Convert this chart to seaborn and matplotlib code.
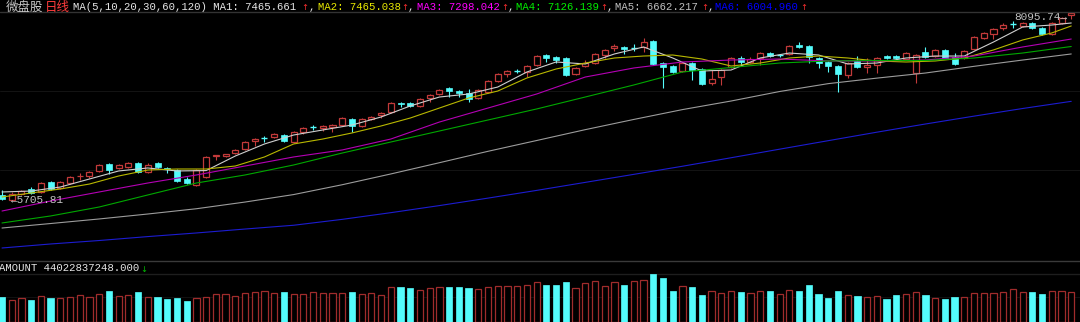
import matplotlib
matplotlib.use('Agg')
import matplotlib.pyplot as plt
from matplotlib.lines import Line2D
import numpy as np
import seaborn as sns

# ---------------- data ----------------
opens = [5770, 5706, 5782, 5846, 5808, 5935, 5859, 5922, 6005, 6011,
         6075, 6164, 6113, 6125, 6176, 6062, 6176, 6113, 6087, 5973,
         5897, 5998, 6265, 6265, 6303, 6354, 6456, 6500, 6507, 6532,
         6443, 6570, 6628, 6621, 6634, 6659, 6736, 6647, 6736, 6786,
         6825, 6939, 6939, 6901, 7002, 7053, 7130, 7091, 7066, 7002,
         7079, 7218, 7308, 7346, 7333, 7422, 7549, 7524, 7511, 7308,
         7409, 7447, 7549, 7638, 7651, 7644, 7651, 7727, 7447, 7409,
         7346, 7447, 7371, 7193, 7269, 7396, 7511, 7460, 7511, 7574,
         7543, 7562, 7676, 7663, 7511, 7460, 7409, 7295, 7473, 7396,
         7422, 7536, 7536, 7498, 7320, 7587, 7536, 7613, 7524, 7511,
         7625, 7765, 7816, 7892, 7949, 7918, 7956, 7892, 7816, 7956,
         8057]
highs = [5833, 5808, 5833, 5871, 5935, 5948, 5948, 6011, 6049, 6075,
         6164, 6176, 6164, 6189, 6189, 6176, 6189, 6125, 6100, 5998,
         6100, 6265, 6278, 6291, 6354, 6456, 6494, 6519, 6558, 6545,
         6583, 6634, 6659, 6659, 6672, 6761, 6748, 6748, 6774, 6825,
         6952, 6952, 6952, 7002, 7053, 7117, 7142, 7104, 7117, 7117,
         7231, 7320, 7358, 7371, 7422, 7549, 7562, 7536, 7524, 7396,
         7485, 7574, 7625, 7689, 7663, 7689, 7765, 7740, 7460, 7422,
         7460, 7460, 7384, 7358, 7371, 7524, 7536, 7524, 7587, 7587,
         7562, 7676, 7714, 7676, 7524, 7473, 7422, 7460, 7536, 7511,
         7524, 7549, 7549, 7587, 7562, 7651, 7625, 7625, 7574, 7613,
         7790, 7841, 7892, 7956, 7981, 7968, 7968, 7905, 7968, 8032,
         8095.74]
lows = [5712, 5705.81, 5770, 5782, 5795, 5833, 5846, 5909, 5960, 5986,
        6062, 6037, 6100, 6113, 6049, 6049, 6113, 6049, 5935, 5909,
        5884, 5986, 6214, 6253, 6291, 6342, 6392, 6443, 6494, 6443,
        6431, 6545, 6596, 6583, 6570, 6647, 6570, 6634, 6723, 6748,
        6812, 6888, 6888, 6888, 6952, 7041, 7015, 7015, 6952, 6990,
        7066, 7206, 7269, 7320, 7269, 7409, 7460, 7447, 7282, 7295,
        7396, 7435, 7511, 7600, 7562, 7600, 7587, 7422, 7130, 7320,
        7333, 7231, 7168, 7168, 7168, 7384, 7409, 7447, 7422, 7524,
        7524, 7549, 7638, 7447, 7384, 7333, 7079, 7257, 7384, 7320,
        7320, 7498, 7498, 7485, 7193, 7511, 7524, 7498, 7422, 7498,
        7613, 7752, 7752, 7867, 7892, 7905, 7879, 7803, 7803, 7943,
        8007]
closes = [5719, 5782, 5824, 5795, 5922, 5846, 5935, 5998, 6011, 6062,
          6151, 6087, 6151, 6176, 6062, 6151, 6125, 6100, 5948, 5922,
          6087, 6253, 6272, 6291, 6342, 6443, 6481, 6500, 6545, 6456,
          6570, 6621, 6628, 6647, 6659, 6748, 6647, 6736, 6761, 6812,
          6939, 6926, 6901, 6990, 7041, 7104, 7091, 7066, 6990, 7104,
          7218, 7308, 7346, 7346, 7409, 7536, 7511, 7485, 7295, 7384,
          7447, 7562, 7613, 7663, 7625, 7644, 7714, 7435, 7396, 7333,
          7447, 7358, 7180, 7244, 7358, 7511, 7460, 7498, 7574, 7536,
          7543, 7663, 7651, 7524, 7447, 7409, 7308, 7447, 7396, 7422,
          7511, 7511, 7511, 7574, 7549, 7524, 7613, 7511, 7435, 7600,
          7778, 7829, 7879, 7930, 7949, 7956, 7892, 7816, 7956, 8019,
          8080]
# turnover, 亿元
amount = [275, 242, 264, 242, 286, 264, 264, 275, 297, 275,
          308, 341, 286, 297, 330, 275, 275, 253, 264, 231,
          264, 275, 308, 308, 286, 319, 330, 341, 319, 330,
          308, 308, 330, 319, 319, 319, 330, 308, 319, 297,
          385, 385, 374, 352, 374, 385, 385, 385, 374, 363,
          385, 396, 396, 396, 407, 440, 407, 407, 440, 374,
          429, 451, 396, 440, 407, 451, 462, 528, 484, 341,
          396, 385, 297, 341, 319, 341, 330, 319, 341, 341,
          308, 352, 341, 407, 308, 264, 341, 297, 286, 275,
          286, 253, 297, 308, 330, 297, 264, 253, 275, 275,
          319, 319, 319, 330, 363, 330, 330, 308, 341, 341,
          330]

ma_short_idx = list(range(0, 109, 3)) + [110]
ma1 = [5808, 5820, 5871, 5973, 6075, 6113, 6075, 6080, 6265, 6418,
       6532, 6596, 6659, 6761, 6901, 7015, 7053, 7142, 7333, 7460,
       7435, 7562, 7651, 7511, 7346, 7358, 7511, 7574, 7549, 7435,
       7447, 7511, 7536, 7536, 7714, 7905, 7930, 7956]
ma2 = [5744, 5795, 5846, 5909, 6011, 6087, 6100, 6100, 6138, 6253,
       6418, 6481, 6558, 6647, 6748, 6875, 7002, 7091, 7257, 7371,
       7447, 7511, 7536, 7549, 7498, 7409, 7447, 7511, 7536, 7511,
       7473, 7460, 7473, 7511, 7613, 7740, 7829, 7918]
ma_long_idx = list(range(0, 111, 5))
ma3 = [5566, 5693, 5808, 5922, 6024, 6138, 6253, 6342, 6481, 6697,
       6875, 7053, 7269, 7384, 7460, 7485, 7498, 7473, 7473, 7485,
       7536, 7651, 7752]
ma4 = [5414, 5503, 5617, 5770, 5922, 6024, 6151, 6303, 6443, 6583,
       6723, 6863, 7015, 7168, 7333, 7390, 7447, 7473, 7479, 7479,
       7511, 7574, 7657]
ma5 = [5350, 5407, 5465, 5528, 5595, 5680, 5775, 5900, 6037, 6180,
       6325, 6462, 6600, 6730, 6855, 6964, 7085, 7185, 7255, 7320,
       7405, 7485, 7562]
ma6 = [5096, 5147, 5191, 5241, 5287, 5337, 5385, 5460, 5545, 5635,
       5730, 5828, 5930, 6032, 6135, 6243, 6352, 6460, 6568, 6672,
       6772, 6869, 6960]

# ---------------- style ----------------
sns.set_theme(style='dark', rc={'axes.facecolor': 'black', 'figure.facecolor': 'black',
                                'savefig.facecolor': 'black'})
plt.rcParams['font.family'] = ['Liberation Mono', 'Noto Sans CJK SC', 'DejaVu Sans']

RED = '#c23a3a'
VRED = '#a02c2c'
CYAN = '#54fcfc'
W, H = 1080, 322

fig = plt.figure(figsize=(W / 100, H / 100), dpi=100)


def fy(y):
    return 1 - y / H


ax = fig.add_axes([0, fy(260), 1, fy(11) - fy(260)])
axv = fig.add_axes([0, fy(322), 1, fy(262) - fy(322)])
for a in (ax, axv):
    a.set_facecolor('black')
    a.set_axis_off()

n = len(closes)
x = np.arange(n)
o = np.array(opens, float)
c = np.array(closes, float)
h = np.array(highs, float)
l = np.array(lows, float)

up = c > o
dn = c < o
eq = c == o
wick_cols = np.where(up, RED, CYAN)

ax.vlines(x, l, h, colors=wick_cols, linewidth=0.8, zorder=2)
bw = 0.62
ax.bar(x[up], (c - o)[up], bottom=o[up], width=bw, facecolor='black',
       edgecolor=RED, linewidth=0.9, zorder=3)
ax.bar(x[dn], (o - c)[dn], bottom=c[dn], width=bw, facecolor=CYAN,
       edgecolor=CYAN, linewidth=0.5, zorder=3)
ax.hlines(o[eq], x[eq] - bw / 2, x[eq] + bw / 2, colors=CYAN, linewidth=1.0, zorder=3)

ma_specs = [(ma_short_idx, ma1, '#cfcfcf'), (ma_short_idx, ma2, '#b8b800'),
            (ma_long_idx, ma3, '#b400b4'), (ma_long_idx, ma4, '#00a800'),
            (ma_long_idx, ma5, '#9c9c9c'), (ma_long_idx, ma6, '#1c1cd0')]
for idx, vals, col in ma_specs:
    sns.lineplot(x=idx, y=vals, ax=ax, color=col, linewidth=0.8, zorder=4,
                 legend=False, estimator=None)

ax.axhline(7091, color='#141414', linewidth=0.7, zorder=1)
ax.axhline(6087, color='#141414', linewidth=0.7, zorder=1)

ax.set_xlim(-0.206, 110.9)
ax.set_ylim(4943.4, 8108.2)
ax.set_axis_off()

# high / low labels
imin = int(np.argmin(l))
imax = int(np.argmax(h))
ax.text(imin - 0.1, l[imin], '\u2190' + f'{l[imin]:.2f}', color='#c4c4c4', fontsize=8,
        ha='left', va='center', zorder=5, family=['Liberation Mono', 'DejaVu Sans'])
ax.text(imax - 0.4, h[imax], f'{h[imax]:.2f}' + '\u2192', color='#c4c4c4', fontsize=8,
        ha='right', va='top', zorder=5, family=['Liberation Mono', 'DejaVu Sans'])

# volume
amt = np.array(amount, float)
vup = c >= o
axv.bar(x[vup], amt[vup], width=0.64, facecolor='black', edgecolor=VRED,
        linewidth=0.9, zorder=3)
axv.bar(x[~vup], amt[~vup], width=0.64, facecolor=CYAN, edgecolor=CYAN,
        linewidth=0.5, zorder=3)
axv.axhline(528, color='#1e1e1e', linewidth=1.0, zorder=1)
axv.axhline(275, color='#121212', linewidth=0.7, zorder=1)
axv.set_xlim(-0.206, 110.9)
axv.set_ylim(4, 664)
axv.set_axis_off()

# separator lines
fig.add_artist(Line2D([0, 1], [fy(12), fy(12)], transform=fig.transFigure,
                      color='#333333', linewidth=1.0))
fig.add_artist(Line2D([0, 1], [fy(261), fy(261)], transform=fig.transFigure,
                      color='#3a3a3a', linewidth=1.0))

# header texts
mono = ['Liberation Mono', 'DejaVu Sans Mono']
cjk = ['Noto Sans CJK SC', 'DejaVu Sans']
base = fy(10.5)
fig.text(6 / W, base, '微盘股', color='#c8c8c8', fontsize=9, family=cjk, va='baseline')
fig.text(45 / W, base, '日线', color='#ff3c3c', fontsize=9, family=cjk, va='baseline')
segs = [(73, 'MA(5,10,20,30,60,120) MA1: 7465.661', '#e6e6e6'),
        (318, 'MA2: 7465.038', '#e8e800'),
        (417, 'MA3: 7298.042', '#ff00ff'),
        (516, 'MA4: 7126.139', '#00ee00'),
        (615, 'MA5: 6662.217', '#c0c0c0'),
        (715, 'MA6: 6004.960', '#0000ff')]
for sx, s, col in segs:
    fig.text(sx / W, base, s, color=col, fontsize=7.7, family=mono, va='baseline')
for ax_ in (305, 404.5, 504.5, 603.5, 704.5, 803.5):
    fig.text(ax_ / W, fy(10.5), '\u2191', color='#ff3030', fontsize=6,
             family=['DejaVu Sans'], va='baseline', ha='center')
for cx in (308.5, 408, 508, 607, 708):
    fig.text(cx / W, base, ',', color='#e6e6e6', fontsize=7.7, family=mono,
             va='baseline', ha='left')

fig.text(-1 / W, fy(271), 'AMOUNT 44022837248.000', color='#e6e6e6', fontsize=7.7,
         family=mono, va='baseline')
fig.text(143.5 / W, fy(272), '\u2193', color='#00c000', fontsize=6,
         family=['DejaVu Sans'], va='baseline', ha='center')

fig.savefig('out.png', dpi=100, facecolor='black')
